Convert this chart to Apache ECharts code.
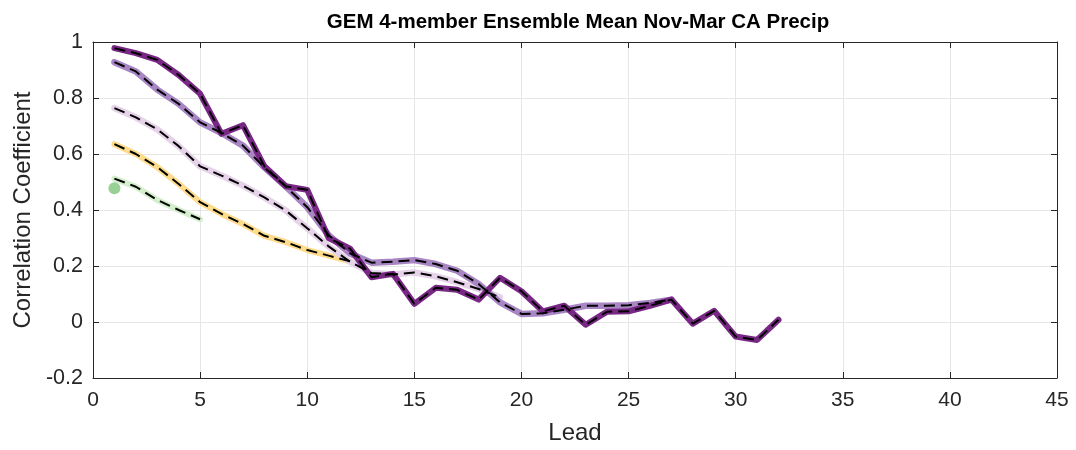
<!DOCTYPE html>
<html>
<head>
<meta charset="utf-8">
<script src="https://cdn.jsdelivr.net/npm/echarts@6/dist/echarts.min.js"></script>
<style>html,body{margin:0;padding:0;background:#fff;}#c{width:1076px;height:450px;}</style>
</head>
<body>
<div id="c"></div>
<script>
var xTicks = [0, 5, 10, 15, 20, 25, 30, 35, 40, 45];
var yTicks = [-0.2, 0, 0.2, 0.4, 0.6, 0.8, 1];

var darkPurple = [0.978, 0.96, 0.936, 0.882, 0.815, 0.672, 0.703, 0.556, 0.485, 0.472, 0.30, 0.262, 0.16, 0.172, 0.065, 0.122, 0.115, 0.08, 0.158, 0.11, 0.038, 0.058, -0.01, 0.037, 0.038, 0.058, 0.08, -0.006, 0.04, -0.052, -0.064, 0.008];
var medPurple = [0.928, 0.895, 0.83, 0.779, 0.713, 0.675, 0.63, 0.552, 0.484, 0.41, 0.31, 0.245, 0.212, 0.215, 0.221, 0.207, 0.183, 0.136, 0.07, 0.029, 0.031, 0.044, 0.058, 0.058, 0.06, 0.068, 0.08];
var lightPurple = [0.764, 0.731, 0.688, 0.628, 0.556, 0.523, 0.487, 0.445, 0.398, 0.335, 0.27, 0.215, 0.175, 0.17, 0.177, 0.163, 0.142, 0.118, 0.088];
var yellow = [0.635, 0.60, 0.553, 0.493, 0.428, 0.386, 0.35, 0.308, 0.285, 0.257, 0.237, 0.217];
var lightGreen = [0.512, 0.483, 0.436, 0.4, 0.367];
var greenDot = [0.478];

function pts(arr) { return arr.map(function (v, i) { return [i + 1, v]; }); }

var groups = [
  { data: lightGreen, color: '#d5efce', width: 6 },
  { data: yellow, color: '#fedc8c', width: 6 },
  { data: lightPurple, color: '#e6d2e9', width: 6.5 },
  { data: medPurple, color: '#a886c4', width: 6.5 },
  { data: darkPurple, color: '#782884', width: 6 }
];

var series = [];
groups.forEach(function (g) {
  series.push({
    type: 'line', data: pts(g.data), symbol: 'none', silent: true,
    lineStyle: { color: g.color, width: g.width, cap: 'round', join: 'round' },
    z: 2
  });
  series.push({
    type: 'line', data: pts(g.data), symbol: 'none', silent: true,
    lineStyle: { color: '#000', width: 2, type: [11, 6] },
    z: 3
  });
});
series.push({
  type: 'scatter', data: pts(greenDot), symbol: 'circle', symbolSize: 12,
  itemStyle: { color: '#7ec47b' }, silent: true, z: 4
});

var axisColor = '#262626';
var font = 'Helvetica, Arial, "Liberation Sans", sans-serif';

var option = {
  animation: false,
  backgroundColor: '#fff',
  title: {
    text: 'GEM 4-member Ensemble Mean Nov-Mar CA Precip',
    left: 573, textAlign: 'center', top: 7,
    textStyle: { fontFamily: font, fontWeight: 'bold', fontSize: 20.5, color: '#000' }
  },
  grid: { left: 93, right: 19, top: 42, bottom: 70, containLabel: false },
  xAxis: [{
    type: 'value', min: 0, max: 45, interval: 5, position: 'bottom',
    name: 'Lead', nameLocation: 'middle', nameGap: 43,
    nameTextStyle: { fontFamily: font, fontSize: 24, color: axisColor },
    axisLine: { show: true, onZero: false, lineStyle: { color: axisColor, width: 1 } },
    axisTick: { show: true, inside: true, length: 6, lineStyle: { color: axisColor } },
    axisLabel: { fontFamily: font, fontSize: 21, color: axisColor, margin: 12 },
    splitLine: { show: true, lineStyle: { color: '#e6e6e6', width: 1 } }
  }, {
    type: 'value', min: 0, max: 45, interval: 5, position: 'top',
    axisLine: { show: true, onZero: false, lineStyle: { color: axisColor, width: 1 } },
    axisTick: { show: true, inside: true, length: 6, lineStyle: { color: axisColor } },
    axisLabel: { show: false }, splitLine: { show: false }
  }],
  yAxis: [{
    type: 'value', min: -0.2, max: 1, interval: 0.2, position: 'left',
    name: 'Correlation Coefficient', nameLocation: 'middle', nameGap: 58, nameRotate: 90,
    nameTextStyle: { fontFamily: font, fontSize: 24, color: axisColor },
    axisLine: { show: true, onZero: false, lineStyle: { color: axisColor, width: 1 } },
    axisTick: { show: true, inside: true, length: 6, lineStyle: { color: axisColor } },
    axisLabel: {
      fontFamily: font, fontSize: 21.5, color: axisColor, margin: 10,
      formatter: function (v) { return String(Math.round(v * 10) / 10); }
    },
    splitLine: { show: true, lineStyle: { color: '#e6e6e6', width: 1 } }
  }, {
    type: 'value', min: -0.2, max: 1, interval: 0.2, position: 'right',
    axisLine: { show: true, onZero: false, lineStyle: { color: axisColor, width: 1 } },
    axisTick: { show: true, inside: true, length: 6, lineStyle: { color: axisColor } },
    axisLabel: { show: false }, splitLine: { show: false }
  }],
  series: series
};

var chart = echarts.init(document.getElementById('c'), null, { renderer: 'canvas' });
chart.setOption(option);
</script>
</body>
</html>
